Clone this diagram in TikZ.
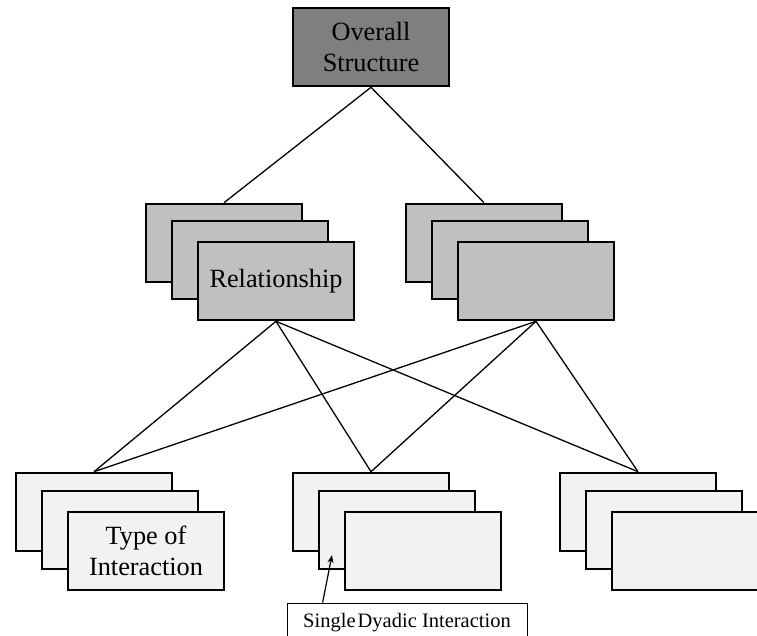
\documentclass[tikz,border=0pt]{standalone}
\usepackage{fontspec}
\setmainfont{Liberation Serif}
\usetikzlibrary{arrows.meta}
\definecolor{topgray}{RGB}{127,127,127}
\definecolor{midgray}{RGB}{192,192,192}
\definecolor{lowgray}{RGB}{242,242,242}
\begin{document}
\begin{tikzpicture}[x=1pt,y=-1pt,
	level/.style={rectangle, draw=black, line width=2.6pt, inner sep=0pt, minimum width=156pt, minimum height=78pt, align=center, font=\fontsize{26.3}{31}\selectfont},
	structbox/.style={level, fill=topgray},
	relbox/.style={level, fill=midgray},
	typebox/.style={level, fill=lowgray},
	link/.style={line width=1.3pt}]

	\useasboundingbox (0,0) rectangle (757,636);
	\clip (0,0) rectangle (757,636);

	\node 	(s)		at	(371,47) 	[structbox]{Overall\\Structure};

	\node 	(r1)		at	(224,243) 	[relbox]{};
	\node 	(r2)		at	(250,260) 	[relbox]{};
	\node 	(r3)		at	(276,281) 	[relbox]{Relationship};

	\node 	(q1)		at	(484,243) 	[relbox]{};
	\node 	(q2)		at	(510,260) 	[relbox]{};
	\node 	(q3)		at	(536,281) 	[relbox]{};

	\node 	(a1)		at	(94,512) 	[typebox]{};
	\node 	(a2)		at	(120,530) 	[typebox]{};
	\node 	(a3)		at	(146,551) 	[typebox]{Type of\\Interaction};

	\node 	(b1)		at	(371,512) 	[typebox]{};
	\node 	(b2)		at	(397,530) 	[typebox]{};
	\node 	(b3)		at	(423,551) 	[typebox]{};

	\node 	(c1)		at	(638,512) 	[typebox]{};
	\node 	(c2)		at	(664,530) 	[typebox]{};
	\node 	(c3)		at	(690,551) 	[typebox]{};

	\node 	(note)		at	(407,623) 	[rectangle, draw=black, line width=0.8pt, fill=white, inner sep=0pt, minimum width=240pt, minimum height=40pt, font=\fontsize{20.5}{24}\selectfont]{Single\hspace{0.1em}Dyadic Interaction};

	\coordinate 	(tip)	at	(332,555);

	\draw[link]	(s.south)	to	(r1.north);
	\draw[link]	(s.south)	to	(q1.north);

	\draw[link]	(r3.south)	to	(a1.north);
	\draw[link]	(r3.south)	to	(b1.north);
	\draw[link]	(r3.south)	to	(c1.north);
	\draw[link]	(q3.south)	to	(a1.north);
	\draw[link]	(q3.south)	to	(b1.north);
	\draw[link]	(q3.south)	to	(c1.north);

	\draw[-{Stealth[length=8pt,width=6pt]}, line width=1.2pt]	([xshift=36pt]note.north west)	to	(tip);

\end{tikzpicture}
\end{document}
